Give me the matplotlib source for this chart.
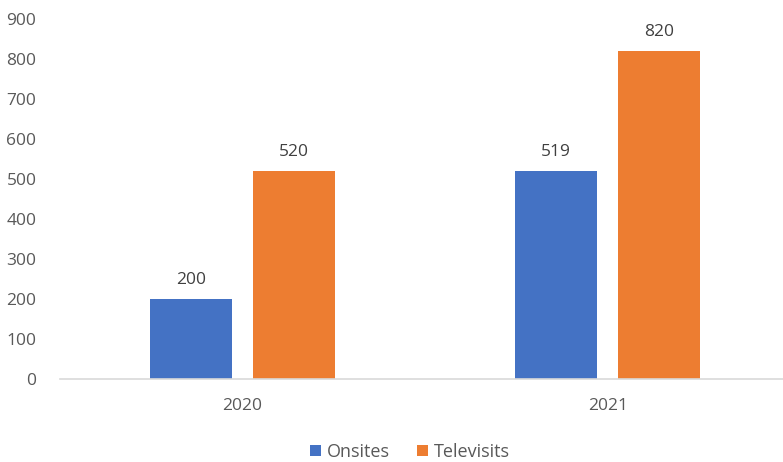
import numpy as np
import matplotlib
matplotlib.use('Agg')
import matplotlib.pyplot as plt

plt.rcParams['font.family'] = ['Open Sans', 'DejaVu Sans']

years = ['2020', '2021']
onsites = [200, 519]
televisits = [520, 820]

fig = plt.figure(figsize=(7.83, 4.62), dpi=100)
ax = fig.add_axes([60/783, 83/462, 723/783, 360/462])

x = np.arange(len(years))
off = 0.141
w = 0.225
b1 = ax.bar(x - off, onsites, w, color='#4472C4', label='Onsites')
b2 = ax.bar(x + off, televisits, w, color='#ED7D31', label='Televisits')
for bars in (b1, b2):
    for b in bars:
        ax.text(b.get_x() + b.get_width()/2, b.get_height() + 28,
                f'{b.get_height():.0f}', ha='center', va='bottom',
                fontsize=12.5, color='#404040')

ax.set_xlim(-0.5, 1.48)
ax.set_ylim(0, 900)
ax.set_yticks(range(0, 901, 100))
ax.set_xticks(x)
ax.set_xticklabels(years)
for s in ('top', 'right', 'left'):
    ax.spines[s].set_visible(False)
ax.spines['bottom'].set_color('#D9D9D9')
ax.spines['bottom'].set_linewidth(1.2)
ax.tick_params(axis='both', length=0, labelsize=12.5, colors='#595959')
ax.tick_params(axis='y', pad=17)
ax.tick_params(axis='x', pad=14)

ax.legend(loc='center', bbox_to_anchor=(410/783, 10/462), bbox_transform=fig.transFigure,
          ncol=2, frameon=False, fontsize=13, handlelength=0.6, handleheight=0.6,
          handletextpad=0.35, columnspacing=1.5, labelcolor='#595959')

fig.savefig('out.png', dpi=100)
